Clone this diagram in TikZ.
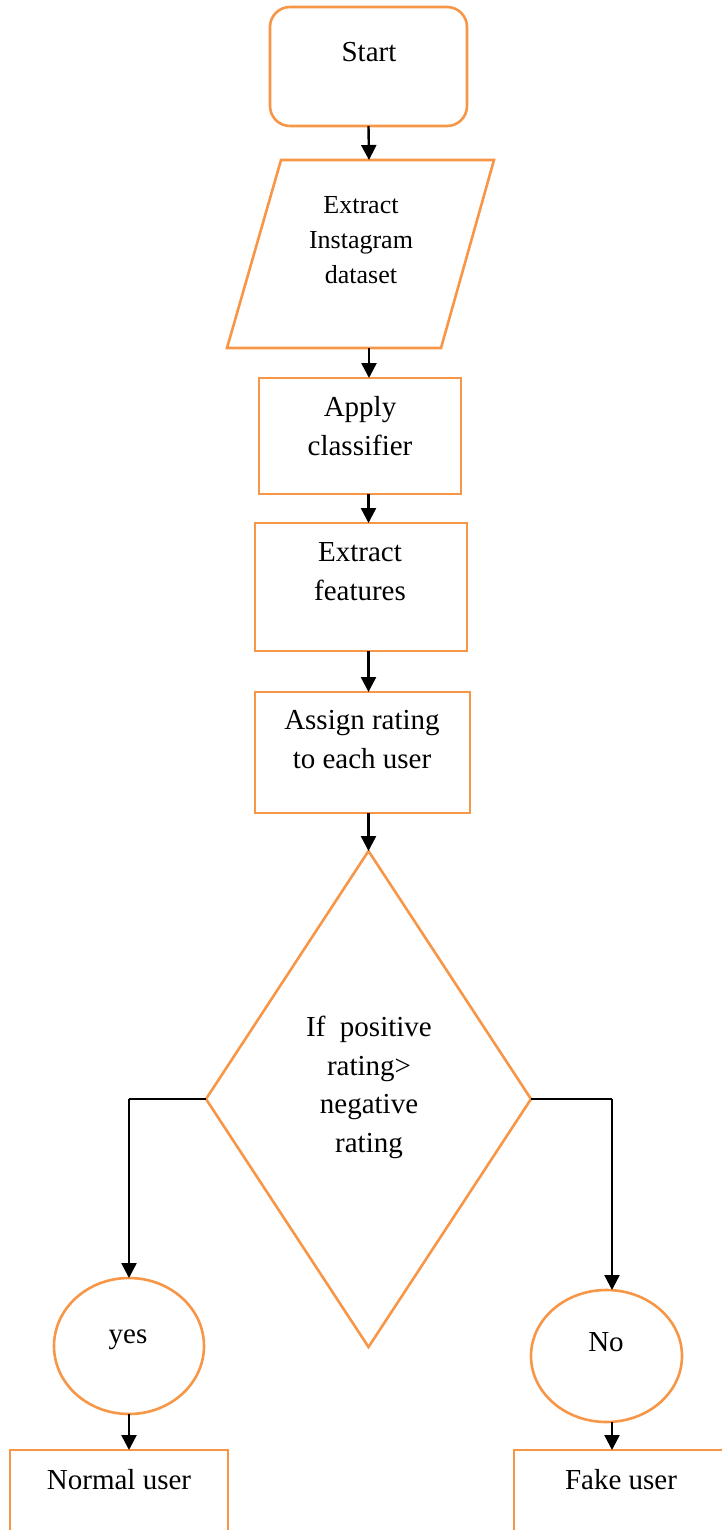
\documentclass[tikz,border=0pt]{standalone}
\usepackage{fontspec}
\setmainfont{Liberation Serif}
\usetikzlibrary{arrows.meta,shapes.geometric}
\definecolor{orng}{HTML}{F79646}
\begin{document}
\begin{tikzpicture}[x=1pt,y=-1pt,
  shp/.style={draw=orng,line width=2.6pt,inner sep=0pt,outer sep=0pt},
  box/.style={shp,rectangle,anchor=north west},
  txt/.style={font=\fontsize{29}{38.5}\selectfont,align=center,anchor=base,inner sep=0pt},
  smalltxt/.style={font=\fontsize{26}{35}\selectfont,align=center,anchor=base,inner sep=0pt},
  arr/.style={line width=2.4pt,-{Triangle[width=15pt,length=15pt]}},
  branch/.style={line width=1.3pt}
]
\useasboundingbox (0,0) rectangle (721,1530);
% shapes
\node[box,minimum width=197pt,minimum height=119pt,rounded corners=20pt] (start) at (270,7) {};
\coordinate (dtl) at (281,160);
\coordinate (dtr) at (494,160);
\coordinate (dbr) at (441,348);
\coordinate (dbl) at (227,348);
\draw[draw=orng,line width=2.6pt,line join=miter] (dtl) -- (dtr) -- (dbr) -- (dbl) -- cycle;
\coordinate (dataN) at (369,160);
\coordinate (dataS) at (369,348);
\node[box,minimum width=202pt,minimum height=116pt] (apply) at (259,378) {};
\node[box,minimum width=212pt,minimum height=128pt] (feat) at (255,523) {};
\node[box,minimum width=215pt,minimum height=121pt] (assign) at (255,692) {};
\node[shp,diamond,minimum width=325pt,minimum height=496pt] (dec) at (368.5,1099) {};
\node[shp,ellipse,minimum width=150pt,minimum height=136pt] (yes) at (129,1346) {};
\node[shp,ellipse,minimum width=151pt,minimum height=132pt] (no) at (606.5,1356) {};
\node[box,minimum width=218pt,minimum height=100pt] (normal) at (10,1450) {};
\node[box,minimum width=220pt,minimum height=100pt] (fake) at (514,1450) {};
% texts (base anchor = baseline of the last line)
\node[txt] (tstart) at (369,62) {Start};
\node[smalltxt] (tdata) at (361,283) {Extract\\Instagram\\dataset};
\node[txt] (tapply) at (360,455) {Apply\\classifier};
\node[txt] (tfeat) at (360,600) {Extract\\features};
\node[txt] (tassign) at (362,768) {Assign rating\\to each user};
\node[txt] (tdec) at (369,1152) {If\ \ positive\\rating>\\negative\\rating};
\node[txt] (tyes) at (128,1343) {yes};
\node[txt] (tno) at (606,1351) {No};
\node[txt] (tnormal) at (119,1489) {Normal user};
\node[txt] (tfake) at (621,1489) {Fake user};
% connectors
\draw[arr] (start.south) -- (dataN);
\draw[arr] (dataS) -- (dataS |- apply.north);
\draw[arr] (apply.south -| start.south) -- (start.south |- feat.north);
\draw[arr] (feat.south -| start.south) -- (start.south |- assign.north);
\draw[arr] (assign.south -| start.south) -- (dec.north);
\coordinate (lc) at (129,1097);
\coordinate (rc) at (612,1097);
\draw[branch] (dec.west) -- (dec.west -| lc);
\draw[arr] (dec.west -| lc) -- (yes.north);
\draw[branch] (dec.east) -- (dec.east -| rc);
\draw[arr] (dec.east -| rc) -- (rc |- no.north);
\draw[arr] (yes.south) -- (yes.south |- normal.north);
\draw[arr] (rc |- no.south) -- (rc |- fake.north);
\end{tikzpicture}
\end{document}
